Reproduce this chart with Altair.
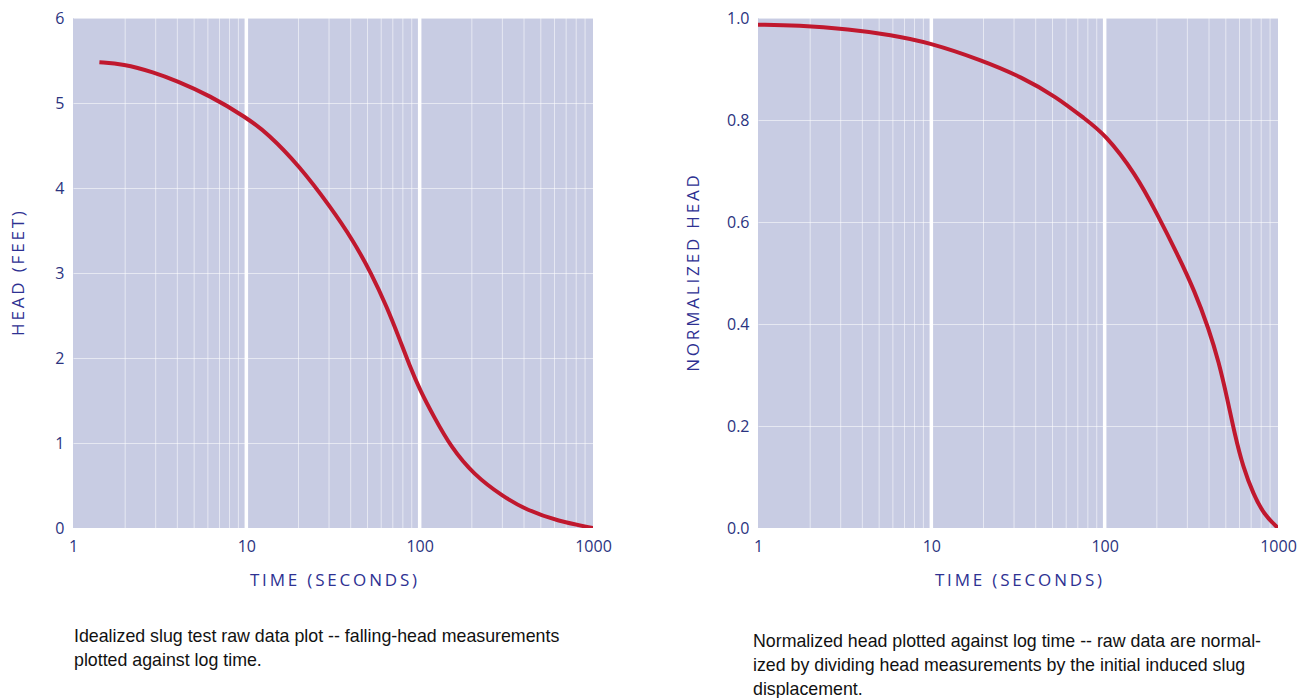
import altair as alt
import pandas as pd

# ---- data ----
left_time = [1.42, 1.94, 2.94, 3.96, 6.12, 10, 13.3, 20.2, 30.5, 41.1, 52.8, 65, 76.3,
             87.5, 100.5, 120.7, 151.8, 204.6, 302, 416, 629, 1000]
left_head = [5.48, 5.46, 5.36, 5.26, 5.09, 4.83, 4.64, 4.26, 3.78, 3.39, 2.99, 2.59, 2.23,
             1.91, 1.62, 1.31, 0.95, 0.63, 0.37, 0.21, 0.08, 0.0]

right_time = [1, 1.69, 3.37, 5.85, 9.7, 19.3, 33.4, 52.8, 76.3, 100, 151, 200, 263, 331,
              398, 456, 511, 561, 629, 722, 828, 1000]
right_head = [0.987, 0.986, 0.978, 0.967, 0.952, 0.918, 0.884, 0.845, 0.803, 0.773, 0.694,
              0.617, 0.537, 0.464, 0.391, 0.325, 0.252, 0.186, 0.119, 0.066, 0.027, 0.0]

minor_grid = [2, 3, 4, 5, 6, 7, 8, 9, 20, 30, 40, 50, 60, 70, 80, 90,
              200, 300, 400, 500, 600, 700, 800, 900]
major_grid = [10, 100]
x_ticks = [1, 10, 100, 1000]
left_y_ticks = [0, 1, 2, 3, 4, 5, 6]
right_y_ticks = [0.0, 0.2, 0.4, 0.6, 0.8, 1.0]

left_caption = ["Idealized slug test raw data plot -- falling-head measurements",
                "plotted against log time."]
right_caption = ["Normalized head plotted against log time -- raw data are normal-",
                 "ized by dividing head measurements by the initial induced slug",
                 "displacement."]

FONT = "Open Sans"
LABEL_COLOR = "#2b3380"
TITLE_COLOR = "#2e3192"
LINE_COLOR = "#c0182e"
BG = "#c8cce3"


def spaced(s):
    return "\u2009".join(s)


xscale = alt.Scale(type="log", domain=[1, 1000], nice=False)


def panel(times, heads, ydomain, yticks, yfmt, ytitle, title_pad, caption, cap_offset, cap_dx):
    line_df = pd.DataFrame({"t": times, "h": heads})
    minor_df = pd.DataFrame({"t": minor_grid})
    major_df = pd.DataFrame({"t": major_grid})

    xaxis = alt.Axis(values=x_ticks, format="d", grid=False, domain=False, ticks=False,
                     labelFont=FONT, labelFontSize=16, labelColor=LABEL_COLOR,
                     labelPadding=10, title=spaced("TIME (SECONDS)"), titleFont=FONT,
                     titleFontSize=17, titleFontWeight="normal", titleColor=TITLE_COLOR,
                     titlePadding=18, labelFlush=False)
    yaxis = alt.Axis(values=yticks, format=yfmt, grid=True, gridColor="white",
                     gridOpacity=0.55, gridWidth=1, domain=False, ticks=False,
                     labelFont=FONT, labelFontSize=16, labelColor=LABEL_COLOR,
                     labelPadding=9, title=spaced(ytitle), titleFont=FONT,
                     titleFontSize=17, titleFontWeight="normal", titleColor=TITLE_COLOR,
                     titlePadding=title_pad, labelFlush=False)

    minor = alt.Chart(minor_df).mark_rule(color="white", strokeWidth=1, opacity=0.55).encode(
        x=alt.X("t:Q", scale=xscale, axis=xaxis)
    )
    major = alt.Chart(major_df).mark_rule(color="white", strokeWidth=3.5, opacity=1).encode(
        x=alt.X("t:Q", scale=xscale)
    )
    line = alt.Chart(line_df).mark_line(color=LINE_COLOR, strokeWidth=4,
                                        interpolate="basis", clip=True).encode(
        x=alt.X("t:Q", scale=xscale),
        y=alt.Y("h:Q", scale=alt.Scale(domain=ydomain, nice=False), axis=yaxis),
    )
    return alt.layer(minor, major, line).properties(
        width=520, height=510,
        title=alt.TitleParams(text=caption, orient="bottom", anchor="start", frame="group",
                              font="Liberation Sans", fontSize=17.8, fontWeight="normal",
                              color="#111111", lineHeight=24, offset=cap_offset, dx=cap_dx),
    )


left = panel(left_time, left_head, [0, 6], left_y_ticks, "d", "HEAD (FEET)", 27,
             left_caption, 40, 1)
right = panel(right_time, right_head, [0, 1], right_y_ticks, ".1f", "NORMALIZED HEAD", 24,
              right_caption, 45, -5)

chart = alt.hconcat(left, right, spacing=72).properties(
    padding={"left": 9, "top": 10, "right": 0, "bottom": 0}
).configure(background="white", view=alt.ViewConfig(fill=BG, stroke=None))

chart.save("out.html", embed_options={"renderer": "svg", "actions": False})
